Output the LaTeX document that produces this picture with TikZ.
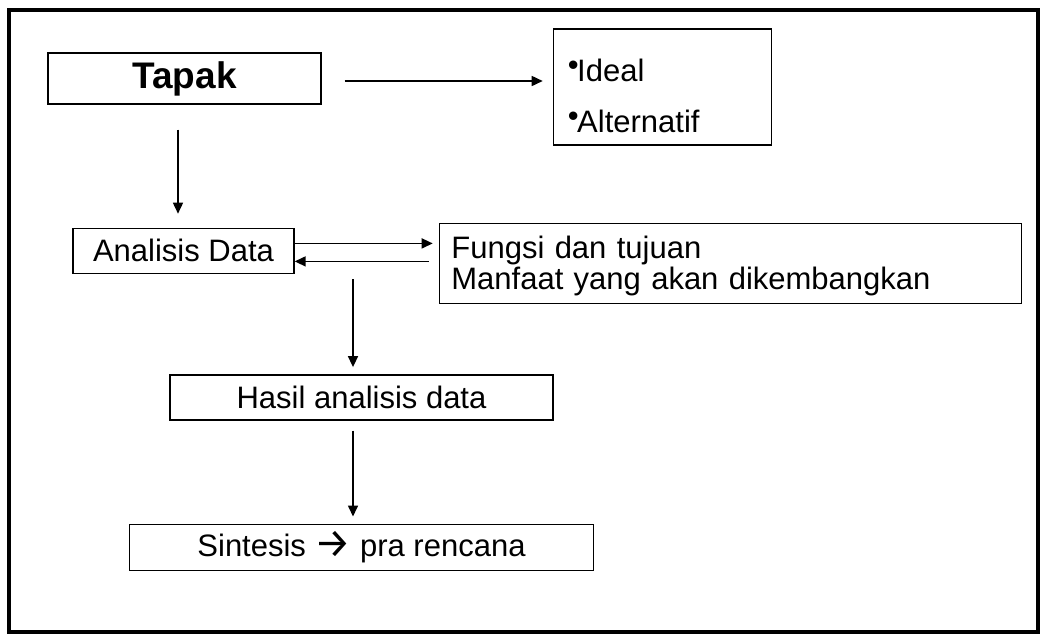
\documentclass[tikz,border=0pt]{standalone}
\usepackage{fontspec}
\setmainfont{Liberation Sans}
\newfontfamily\arrowfont{Fira Sans}
\usetikzlibrary{arrows.meta, positioning, calc}
\newcommand{\listdot}{\raisebox{0.2em}{\textbullet}\kern-0.05em}
\newcommand{\pointer}{{\arrowfont\fontsize{41}{41}\selectfont\raisebox{-1.5pt}{→}}}

\begin{document}
\begin{tikzpicture}[
    x=1pt, y=-1pt,
    box/.style={draw, rectangle, line width=1.4pt, inner sep=0pt,
                font=\fontsize{31}{31}\selectfont},
    titlebox/.style={box, font=\fontsize{37}{40}\selectfont\bfseries},
    listbox/.style={box, minimum width=218pt, minimum height=116pt},
    item/.style={inner sep=0pt, anchor=base west, font=\fontsize{31}{31}\selectfont},
    arrow/.style={-{Triangle[length=11pt, width=10pt]}, line width=1.6pt}
]
    \useasboundingbox (0,0) rectangle (1043,635);
    \draw[line width=3.2pt] (9,10) rectangle (1038,632);

    % Nodes
    \node[titlebox, minimum width=273pt, minimum height=51pt] (tapak) at (184.5,78.5) {Tapak};
    \node[listbox, right=231pt of tapak, yshift=-8.5pt] (pilihan) {};
    \node[item] (ideal) at ([xshift=15pt, yshift=-53pt]pilihan.north west) {\listdot Ideal};
    \node[item] (alternatif) at ([yshift=-51pt]ideal.base west) {\listdot Alternatif};
    \node[box, minimum width=221pt, minimum height=45pt, below=123pt of tapak, xshift=-1pt] (analisis) {Analisis Data};
    \node[box, minimum width=582pt, minimum height=80pt, text width=558pt, align=left,
          inner xsep=12pt, right=144pt of analisis, yshift=-12.5pt] (fungsi)
          {\rule{0pt}{27pt}Fungsi dan tujuan\\Manfaat yang akan dikembangkan};
    \node[box, minimum width=383pt, minimum height=45pt, below=100pt of analisis, xshift=178pt] (hasil) {Hasil analisis data};
    \node[box, minimum width=464pt, minimum height=46pt, below=103pt of hasil] (sintesis)
          {Sintesis \pointer{} pra rencana};
    \coordinate (cabang) at (353,279);

    % Arrows
    \draw[arrow, shorten <=23pt, shorten >=10pt] ([yshift=-2.5pt]tapak.east) -- ([yshift=-2.5pt]tapak.east -| pilihan.west);
    \draw[arrow, shorten <=25pt, shorten >=14pt] ([xshift=-6.5pt]tapak.south) -- ([xshift=-6.5pt]tapak.south |- analisis.north);
    \draw[arrow, shorten >=6pt] ([yshift=7.5pt]analisis.east) -- ([yshift=7.5pt]analisis.east -| fungsi.west);
    \draw[arrow, shorten <=10pt] ([yshift=-10.5pt]analisis.east -| fungsi.west) -- ([yshift=-10.5pt]analisis.east);
    \draw[arrow, shorten >=7pt] (cabang) -- (cabang |- hasil.north);
    \draw[arrow, shorten <=10pt, shorten >=7pt] (cabang |- hasil.south) -- (cabang |- sintesis.north);
\end{tikzpicture}
\end{document}
